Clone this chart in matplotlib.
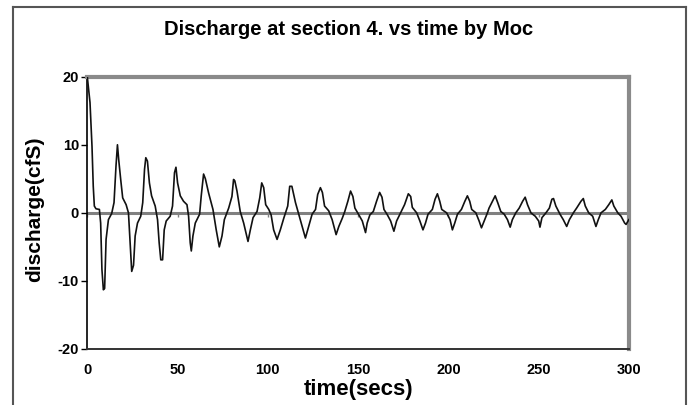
import numpy as np
import matplotlib.pyplot as plt
from matplotlib.lines import Line2D

plt.rcParams['font.family'] = ['Liberation Sans', 'DejaVu Sans']
plt.rcParams['axes.unicode_minus'] = False

# values (MOC result, section 4)
time_s = [
    0, 1.5, 2.6, 3.3, 3.9, 4.8, 6.7, 7.4, 8.1, 8.9, 9.6, 10.4, 11.7, 13.5,
    14.8, 15.9, 16.7, 17.4, 18.5, 19.6, 21.5, 22.8, 23.7, 24.6, 25.6, 26.5,
    27.8, 29.6, 30.7, 31.7, 32.4, 33.3, 34.4, 35.6, 37.6, 38.9, 39.8, 40.7,
    41.7, 42.6, 43.7, 45.9, 47.2, 48.3, 49.1, 50.0, 51.5, 53.3, 55.2, 56.1,
    57.0, 57.6, 58.5, 59.8, 62.2, 63.1, 64.4, 65.4, 67.2, 69.6, 71.4, 73.1,
    74.6, 75.9, 78.3, 80.1, 81.0, 81.7, 82.9, 84.7, 86.6, 89.0, 90.3, 91.8,
    94.0, 95.5, 96.6, 97.7, 98.8, 100.5, 101.8, 103.2, 105.1, 106.9, 108.8,
    111.0, 112.1, 113.3, 115.3, 117.1, 119.0, 120.8, 122.6, 124.5, 126.4,
    127.6, 129.1, 130.2, 131.4, 133.7, 135.6, 137.8, 139.3, 141.2, 142.6,
    144.3, 145.8, 147.1, 148.2, 150.4, 152.3, 154.1, 155.0, 156.5, 158.4,
    160.2, 161.9, 163.2, 164.3, 166.2, 168.0, 169.8, 171.3, 173.5, 175.7,
    177.8, 179.1, 180.0, 182.4, 184.2, 185.9, 187.3, 188.7, 191.1, 192.6,
    193.9, 195.2, 196.3, 199.0, 200.9, 202.2, 203.5, 205.0, 207.2, 209.1,
    210.5, 211.8, 212.9, 215.2, 217.0, 218.3, 219.8, 221.6, 222.5, 224.4,
    225.9, 227.3, 229.0, 230.9, 232.7, 234.2, 235.4, 237.3, 239.2, 241.1,
    242.5, 243.8, 245.7, 248.1, 250.0, 250.7, 251.8, 254.0, 255.9, 257.3,
    258.2, 259.5, 261.8, 263.6, 265.5, 267.0, 269.2, 271.0, 273.4, 274.7,
    275.8, 277.7, 279.9, 281.7, 283.0, 284.5, 286.9, 288.8, 290.5, 291.6,
    293.8, 295.6, 297.6, 298.4, 299.9,
]
discharge_cfs = [
    20.0, 16.2, 9.8, 3.9, 1.0, 0.6, 0.5, -1.5, -8.3, -11.3, -11.1, -3.9, -1.0, -0.1,
    1.5, 6.9, 10.0, 7.8, 4.9, 2.2, 1.2, 0.0, -4.4, -8.6, -7.7, -3.4,
    -1.5, -0.5, 1.5, 6.4, 8.1, 7.6, 4.4, 2.5, 1.0, -1.0, -4.4, -6.9,
    -6.9, -2.5, -1.2, -0.5, 1.0, 5.9, 6.7, 4.4, 2.5, 1.7, 1.2, -0.5,
    -4.4, -5.6, -3.4, -1.5, -0.2, 2.5, 5.7, 5.0, 2.9, 0.5, -2.5, -5.0,
    -3.4, -1.0, 0.7, 2.4, 4.9, 4.7, 3.2, 0.2, -1.5, -4.2, -2.5, -0.7,
    0.2, 2.2, 4.4, 3.7, 1.2, 0.5, -0.3, -2.5, -3.9, -2.5, -0.8,
    1.0, 3.9, 3.9, 1.5, -0.2, -2.0, -3.7, -2.0, -0.2, 0.5,
    2.7, 3.7, 3.0, 1.0, 0.3, -1.0, -3.2, -2.0, -0.8, 0.2,
    1.7, 3.2, 2.4, 0.7, -0.3, -1.2, -2.9, -1.5, -0.3, 0.2,
    1.7, 3.0, 2.3, 0.5, -0.3, -1.2, -2.7, -1.2, 0.0, 1.2,
    2.8, 2.4, 0.8, 0.0, -1.2, -2.5, -1.5, -0.2, 0.5, 2.0,
    2.8, 1.7, 0.5, 0.0, -1.0, -2.5, -1.5, -0.2, 0.5, 1.7,
    2.5, 1.7, 0.5, 0.0, -1.2, -2.2, -1.2, 0.0, 0.7, 1.7,
    2.5, 1.5, 0.2, -0.2, -1.0, -2.1, -1.0, 0.0, 0.7, 1.7,
    2.3, 1.2, 0.0, -0.5, -1.2, -2.1, -0.7, 0.0, 0.7, 2.0,
    2.1, 1.0, -0.2, -1.0, -2.0, -1.0, 0.0, 0.7, 1.7, 2.1,
    1.0, 0.0, -0.5, -2.0, -1.0, 0.0, 0.5, 1.2, 1.9, 1.0,
    0.0, -0.5, -1.5, -1.7, -1.0,
]
x_ticks = [0, 50, 100, 150, 200, 250, 300]
y_ticks = [-20, -10, 0, 10, 20]

fig = plt.figure(figsize=(6.89, 4.05), dpi=100)
ax = fig.add_axes([0.1267, 0.1383, 0.7862, 0.6723])

ax.axhline(0, color="#808080", lw=2.2, zorder=1)
ax.plot(time_s, discharge_cfs, color="#111111", lw=1.2, zorder=3)

ax.set_xlim(0, 300)
ax.set_ylim(-20, 20)
ax.set_xticks(x_ticks)
ax.set_yticks(y_ticks)
ax.tick_params(axis="x", length=0, pad=10, labelsize=10.5)
ax.tick_params(axis="y", length=4, width=1, direction="out", pad=2, labelsize=10.5)
for lab in ax.get_xticklabels() + ax.get_yticklabels():
    lab.set_fontweight("bold")

ax.spines["left"].set_color("black")
ax.spines["left"].set_linewidth(1.2)
ax.spines["bottom"].set_color("#333333")
ax.spines["bottom"].set_linewidth(1.4)
ax.spines["top"].set_color("#8a8a8a")
ax.spines["top"].set_linewidth(3)
ax.spines["right"].set_color("#8a8a8a")
ax.spines["right"].set_linewidth(3)

# small tick marks where the time axis crosses zero
sec = ax.secondary_xaxis(0.5)
sec.set_xticks(x_ticks)
sec.xaxis.set_ticks_position("bottom")
sec.tick_params(axis="x", length=3, width=1, color="#808080", direction="out",
                labelbottom=False, labeltop=False)
for sp in sec.spines.values():
    sp.set_visible(False)

ax.set_xlabel("time(secs)", fontsize=16, fontweight="bold")
ax.set_ylabel("discharge(cfS)", fontsize=15, fontweight="bold")
ax.xaxis.set_label_coords(0.5, -0.112)
ax.yaxis.set_label_coords(-0.08, 0.513)

fig.text(0.506, 0.928, "Discharge at section 4. vs time by Moc",
         ha="center", va="center", fontsize=14.5, fontweight="bold")

# outer chart frame (bottom edge is cut off in the picture)
fx0, fx1, fy1 = 13 / 689, 686 / 689, 1 - 7 / 405
for xs, ys in [([fx0, fx0], [0, fy1]), ([fx0, fx1], [fy1, fy1]), ([fx1, fx1], [fy1, 0])]:
    fig.add_artist(Line2D(xs, ys, transform=fig.transFigure, color="#555555", lw=1.5))

fig.savefig("out.png", dpi=100)
